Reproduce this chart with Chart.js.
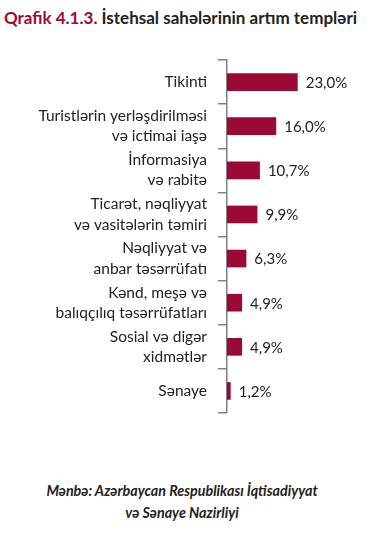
<!DOCTYPE html>
<html>
<head>
<meta charset="utf-8">
<script src="https://cdn.jsdelivr.net/npm/chart.js@4/dist/chart.umd.min.js"></script>
<style>
  html, body { margin: 0; padding: 0; background: #fff; }
  body { width: 383px; height: 535px; position: relative; overflow: hidden; font-family: Lato, sans-serif; }
  #title { position: absolute; left: 4px; top: 7px; font-size: 17px; font-weight: bold; color: #222; white-space: nowrap; }
  #title .num { color: #9b0a35; }
  #wrap { position: absolute; left: 0; top: 50px; width: 383px; height: 375px; }
  #source { position: absolute; left: 0; width: 364px; top: 480px; text-align: center; font-size: 14.3px; font-weight: bold; font-style: italic; color: #222; line-height: 22px; }
</style>
</head>
<body>
<div id="title"><span class="num">Qrafik 4.1.3.</span> İstehsal sahələrinin artım templəri</div>
<div id="wrap"><canvas id="c"></canvas></div>
<div id="source">Mənbə: Azərbaycan Respublikası İqtisadiyyat<br>və Sənaye Nazirliyi</div>
<script>
const categories = [
  ["Tikinti"],
  ["Turistlərin yerləşdirilməsi", "və ictimai iaşə"],
  ["İnformasiya", "və rabitə"],
  ["Ticarət, nəqliyyat", "və vasitələrin təmiri"],
  ["Nəqliyyat və", "anbar təsərrüfatı"],
  ["Kənd, meşə və", "balıqçılıq təsərrüfatları"],
  ["Sosial və digər", "xidmətlər"],
  ["Sənaye"]
];
const growthRates = [23.0, 16.0, 10.7, 9.9, 6.3, 4.9, 4.9, 1.2];

const valueLabels = {
  id: 'valueLabels',
  afterDatasetsDraw(chart) {
    const ctx = chart.ctx;
    const meta = chart.getDatasetMeta(0);
    ctx.save();
    ctx.font = '15px Lato, sans-serif';
    ctx.fillStyle = '#222';
    ctx.textAlign = 'left';
    ctx.textBaseline = 'middle';
    meta.data.forEach((bar, i) => {
      const v = chart.data.datasets[0].data[i];
      ctx.fillText(v.toFixed(1).replace('.', ',') + '%', bar.x + 8, bar.y + 1);
    });
    ctx.restore();
  }
};

new Chart(document.getElementById('c'), {
  type: 'bar',
  data: {
    labels: categories,
    datasets: [{
      data: growthRates,
      backgroundColor: '#9b0a35',
      categoryPercentage: 1,
      barPercentage: 0.4
    }]
  },
  options: {
    indexAxis: 'y',
    responsive: true,
    maintainAspectRatio: false,
    animation: false,
    layout: { padding: { top: 10, bottom: 12, left: 0, right: 33 } },
    plugins: { legend: { display: false }, tooltip: { enabled: false } },
    scales: {
      x: { display: false, min: 0, max: 40 },
      y: {
        afterFit: (s) => { s.width = 227; s.paddingTop = 0; s.paddingBottom = 0; },
        border: { display: true, color: '#808080', width: 1.5 },
        grid: { display: true, drawOnChartArea: false, drawTicks: true, tickLength: 9, color: '#808080', lineWidth: 1.5, offset: true },
        ticks: { padding: 11, color: '#222', font: { family: 'Lato, sans-serif', size: 15.5, lineHeight: 1.3 } }
      }
    }
  },
  plugins: [valueLabels]
});
</script>
</body>
</html>
